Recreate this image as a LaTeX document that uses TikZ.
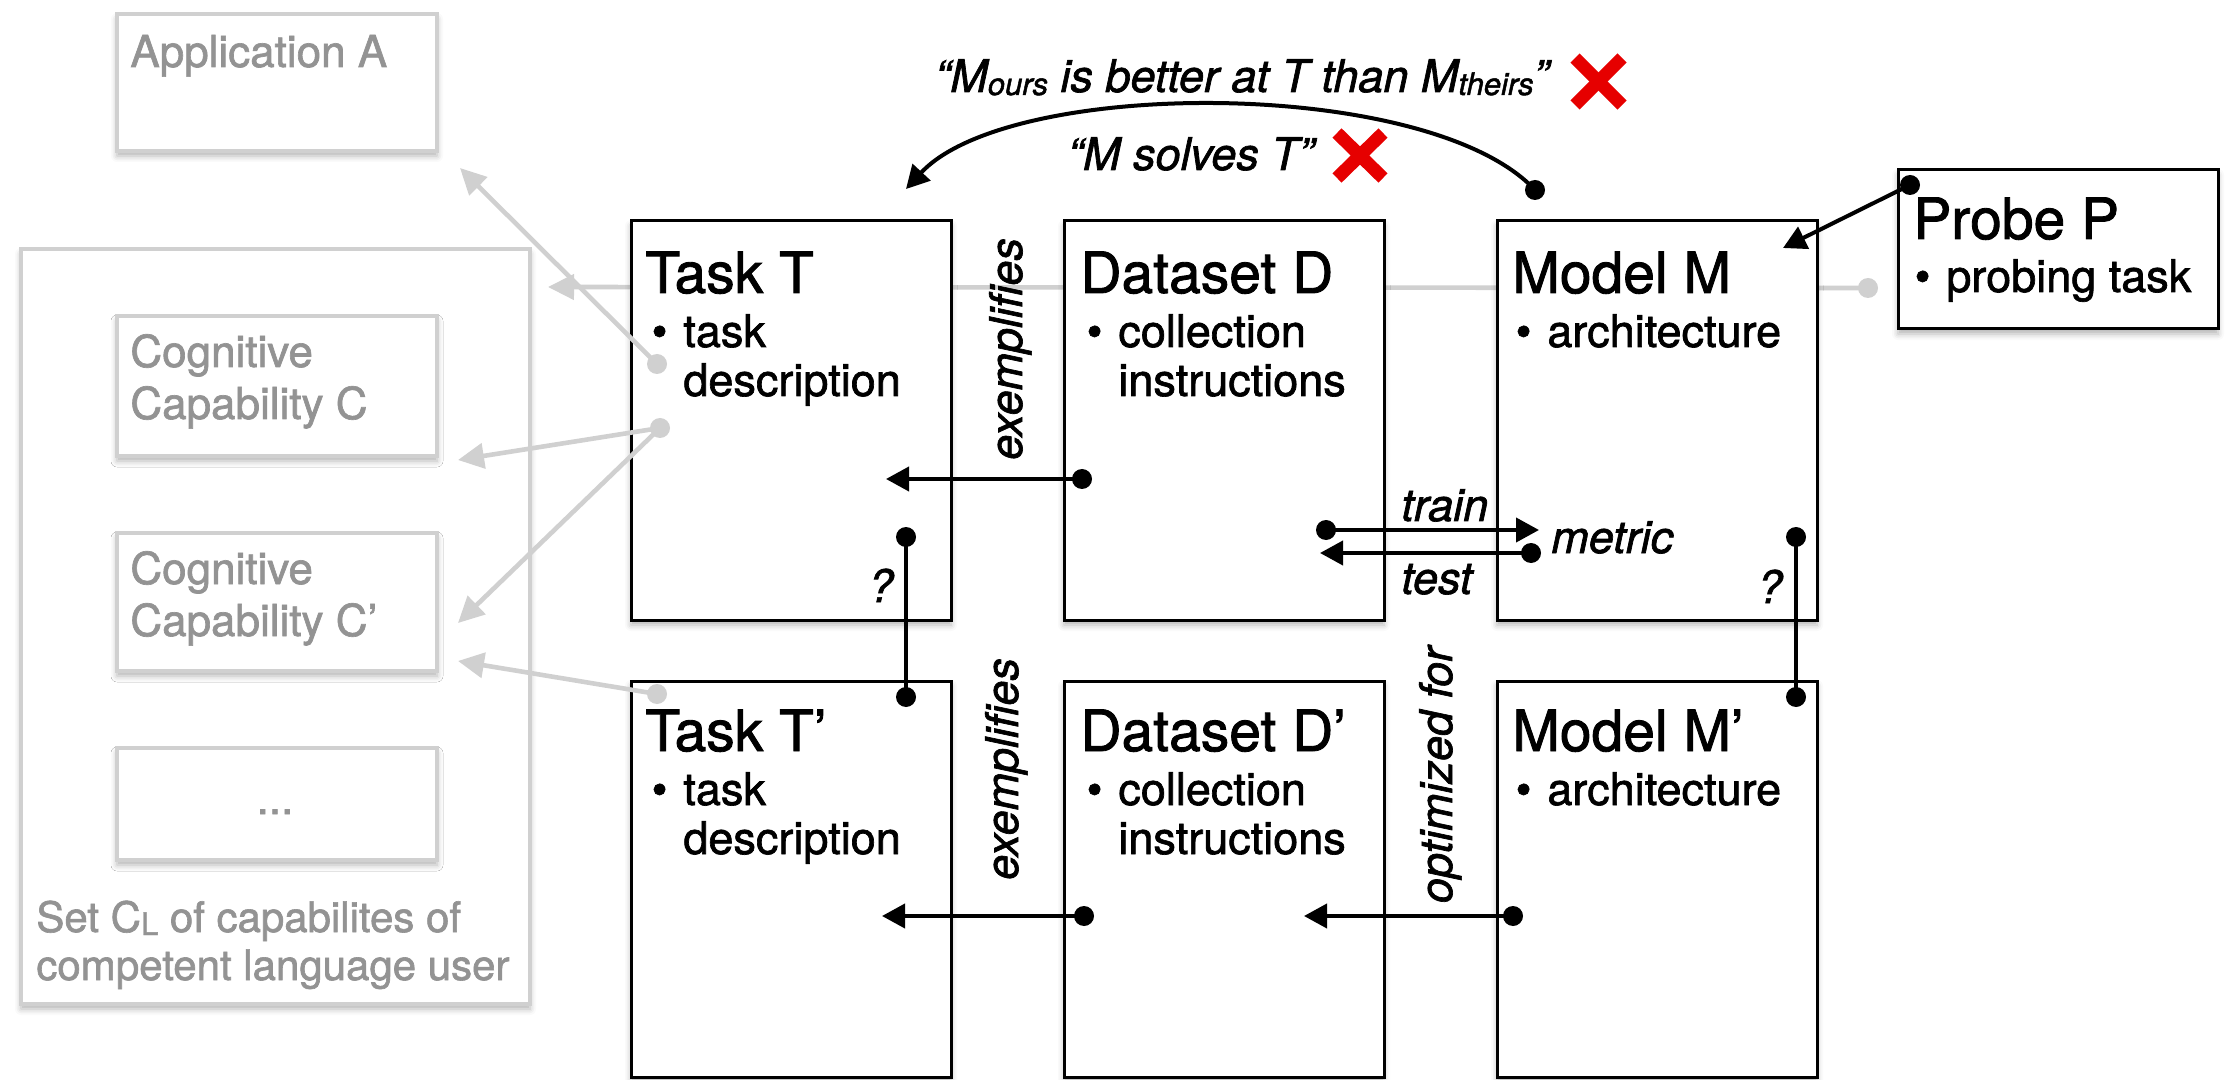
\documentclass[tikz,border=0pt]{standalone}
\usepackage{fontspec}
\setmainfont{TeX Gyre Heros}[FakeBold=1.5]
\usetikzlibrary{arrows.meta,calc,shadows.blur}

\definecolor{lightline}{HTML}{D0D0D0}
\definecolor{boxgrey}{HTML}{D0D0D0}
\definecolor{textgrey}{HTML}{939393}
\definecolor{crossred}{HTML}{E60000}

\newcommand\hdfont{\fontsize{28.5pt}{34pt}\selectfont}
\newcommand\txfont{\fontsize{22.5pt}{27pt}\selectfont}
\newcommand\gyfont{\fontsize{22pt}{26pt}\selectfont}
\newcommand\cptfont{\fontsize{21pt}{25pt}\selectfont}
\newcommand\itembullet{\llap{\textbullet\hspace{8pt}}}
\newcommand\lowsub[1]{\raisebox{-1.5pt}{\fontsize{15.5pt}{16pt}\selectfont #1}}

\begin{document}
\begin{tikzpicture}[x=0.5pt,y=-0.5pt,
  softshadow/.style={blur shadow={shadow xshift=0pt, shadow yshift=-2.5pt,
      shadow blur radius=3pt, shadow opacity=30}},
  blackbox/.style={rectangle, draw=black, line width=1.5pt, fill=white,
      inner sep=0pt, outer sep=0pt, anchor=north west, minimum width=160pt, softshadow},
  greybox/.style={rectangle, draw=boxgrey, line width=2pt, fill=white,
      inner sep=0pt, outer sep=0pt, anchor=north west, minimum width=160pt, softshadow},
  ttl/.style={anchor=base west, inner sep=0pt, font=\hdfont},
  bdy/.style={anchor=base west, inner sep=0pt, font=\txfont},
  gtxt/.style={anchor=base west, inner sep=0pt, font=\gyfont, text=textgrey},
  lbl/.style={inner sep=0pt, font=\txfont\itshape},
  blk/.style={line width=2pt, draw=black},
  gry/.style={line width=2.3pt, draw=lightline},
  blkhead/.style={-{Triangle[length=11.5pt,width=12pt]}},
  gryhead/.style={-{Triangle[length=13pt,width=12.5pt]}},
  cross/.style={line width=6.5pt, draw=crossred},
]
\useasboundingbox (0,0) rectangle (2233,1080);

% ---------- capability side (grey) ----------
\node[greybox, minimum width=254.5pt, minimum height=377.5pt] (S) at (21,249) {};
\node[greybox, minimum height=68.5pt] (A) at (117,14) {};
\node[greybox, minimum height=70pt] (C) at (117,316) {};
\node[greybox, minimum height=69pt] (C2) at (117,533) {};
\node[greybox, minimum height=56pt] (E) at (117,748) {};

\node[gtxt] (A-t) at ($(A.north west)+(13,53)$) {Application A};
\node[gtxt] (C-t1) at ($(C.north west)+(13,51)$) {Cognitive};
\node[gtxt] (C-t2) at ($(C.north west)+(13,103)$) {Capability C};
\node[gtxt] (C2-t1) at ($(C2.north west)+(13,51)$) {Cognitive};
\node[gtxt] (C2-t2) at ($(C2.north west)+(13,103)$) {Capability C’};
\node[gtxt, anchor=base] (E-t) at ($(E.north west)+(158,66)$) {...};
\node[gtxt, font=\cptfont] (S-t1) at (36,932) {Set C\lowsub{L} of capabilites of};
\node[gtxt, font=\cptfont] (S-t2) at (36,980) {competent language user};

% ---------- long grey link behind the top row ----------
\coordinate (pdot) at (1868,288);
\coordinate (setin) at (548,287);
\draw[gry, gryhead] (pdot) -- (setin);
\fill[lightline] (pdot) circle[radius=5pt];

% ---------- black boxes ----------
\node[blackbox, minimum height=199.5pt] (T) at (631,221) {};
\node[blackbox, minimum height=199.5pt] (D) at (1064,221) {};
\node[blackbox, minimum height=199.5pt] (M) at (1497,221) {};
\node[blackbox, minimum height=79.5pt] (P) at (1898,170) {};
\node[blackbox, minimum height=198pt] (T2) at (631,681) {};
\node[blackbox, minimum height=198pt] (D2) at (1064,681) {};
\node[blackbox, minimum height=198pt] (M2) at (1497,681) {};

% titles and bullet items
\node[ttl] (T-t) at ($(T.north west)+(14,72)$) {Task T};
\node[bdy] (T-i1) at ($(T.north west)+(52,126)$) {\itembullet task};
\node[bdy] (T-i2) at ($(T.north west)+(52,175)$) {description};

\node[ttl] (D-t) at ($(D.north west)+(16,72)$) {Dataset D};
\node[bdy] (D-i1) at ($(D.north west)+(54,126)$) {\itembullet collection};
\node[bdy] (D-i2) at ($(D.north west)+(54,175)$) {instructions};

\node[ttl] (M-t) at ($(M.north west)+(15,72)$) {Model M};
\node[bdy] (M-i1) at ($(M.north west)+(50,126)$) {\itembullet architecture};

\node[ttl] (P-t) at ($(P.north west)+(15,69)$) {Probe P};
\node[bdy] (P-i1) at ($(P.north west)+(48,122)$) {\itembullet probing task};

\node[ttl] (T2-t) at ($(T2.north west)+(14,70)$) {Task T’};
\node[bdy] (T2-i1) at ($(T2.north west)+(52,124)$) {\itembullet task};
\node[bdy] (T2-i2) at ($(T2.north west)+(52,173)$) {description};

\node[ttl] (D2-t) at ($(D2.north west)+(16,70)$) {Dataset D’};
\node[bdy] (D2-i1) at ($(D2.north west)+(54,124)$) {\itembullet collection};
\node[bdy] (D2-i2) at ($(D2.north west)+(54,173)$) {instructions};

\node[ttl] (M2-t) at ($(M2.north west)+(15,70)$) {Model M’};
\node[bdy] (M2-i1) at ($(M2.north west)+(50,124)$) {\itembullet architecture};

% ---------- grey links from the tasks to applications and capabilities ----------
\coordinate (gA) at (657,364);
\coordinate (gC) at (660,428);
\coordinate (gT2) at (657,694);
\coordinate (inA) at (460,168);
\coordinate (inC) at (458,460);
\coordinate (inC2a) at (458,623);
\coordinate (inC2b) at (458,661);
\draw[gry, gryhead] (gA) -- (inA);
\draw[gry, gryhead] (gC) -- (inC);
\draw[gry, gryhead] (gC) -- (inC2a);
\draw[gry, gryhead] (gT2) -- (inC2b);
\foreach \p in {gA,gC,gT2} \fill[lightline] (\p) circle[radius=5pt];

% ---------- black links ----------
% claim arc from the model back to the task
\coordinate (arcS) at (1535,190);
\coordinate (arcE) at (906,189);
\draw[blk, blkhead] (arcS) .. controls (1430,77) and (1010,77) .. (arcE);

% probe attached to the model
\coordinate (prS) at (1910,185);
\coordinate (prE) at (1783,248);
\draw[blk, blkhead] (prS) -- (prE);

% dataset exemplifies task
\coordinate (exS) at (1082,479);
\coordinate (exE) at (886,479);
\draw[blk, blkhead] (exS) -- (exE);
\coordinate (ex2S) at (1084,916);
\coordinate (ex2E) at (882,916);
\draw[blk, blkhead] (ex2S) -- (ex2E);

% model optimized for dataset
\coordinate (opS) at (1513,916);
\coordinate (opE) at (1304,916);
\draw[blk, blkhead] (opS) -- (opE);

% train / test
\coordinate (trS) at (1326,530);
\coordinate (trE) at (1539,530);
\draw[blk, blkhead] (trS) -- (trE);
\coordinate (teS) at (1531,553);
\coordinate (teE) at (1320,553);
\draw[blk, blkhead] (teS) -- (teE);

% task/model correspondences
\coordinate (qT1) at (906,537);
\coordinate (qT2) at (906,697);
\draw[blk] (qT1) -- (qT2);
\coordinate (qM1) at (1796,537);
\coordinate (qM2) at (1796,697);
\draw[blk] (qM1) -- (qM2);

\foreach \p in {arcS,prS,exS,ex2S,opS,trS,teS,qT1,qT2,qM1,qM2}
  \fill (\p) circle[radius=5pt];

% ---------- labels ----------
\node[lbl, anchor=base, rotate=90] (lex1) at (1022,349) {exemplifies};
\node[lbl, anchor=base, rotate=90] (lex2) at (1018,769) {exemplifies};
\node[lbl, anchor=base, rotate=90] (lopt) at (1452,775) {optimized for};
\node[lbl, anchor=base west] (ltr) at (1401,521) {train};
\node[lbl, anchor=base west] (lte) at (1401,594) {test};
\node[lbl, anchor=base west] (lme) at (1551,553) {metric};
\node[lbl, anchor=base west] (lq1) at (868,602) {?};
\node[lbl, anchor=base west] (lq2) at (1757,603) {?};

\node[lbl, anchor=base] (claim1) at (1242,92) {“M\lowsub{ours} is better at T than M\lowsub{theirs}”};
\node[lbl, anchor=base] (claim2) at (1191,170) {“M solves T”};

% rejection marks
\draw[cross] (1575,58) -- (1622,105);
\draw[cross] (1622,58) -- (1575,105);
\draw[cross] (1337,133) -- (1383,178);
\draw[cross] (1383,133) -- (1337,178);
\end{tikzpicture}
\end{document}
